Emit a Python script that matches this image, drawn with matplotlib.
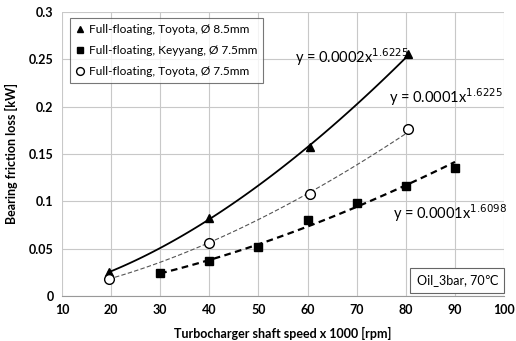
import numpy as np
import matplotlib
matplotlib.use("Agg")
import matplotlib.pyplot as plt

plt.rcParams["font.family"] = ["Lato", "DejaVu Sans"]

# Toyota 8.5 mm (triangles)
speed_t85 = [19.5, 40, 60.5, 80.5]
loss_t85 = [0.025, 0.082, 0.157, 0.256]
# Keyyang 7.5 mm (squares)
speed_k75 = [30, 40, 50, 60, 70, 80, 90]
loss_k75 = [0.024, 0.037, 0.052, 0.080, 0.098, 0.116, 0.135]
# Toyota 7.5 mm (open circles)
speed_t75 = [19.5, 40, 60.5, 80.5]
loss_t75 = [0.018, 0.056, 0.108, 0.176]

labels = ["Full-floating, Toyota, Ø 8.5mm",
          "Full-floating, Keyyang, Ø 7.5mm",
          "Full-floating, Toyota, Ø 7.5mm"]
equations = ["y = 0.0002x$^{1.6225}$",
             "y = 0.0001x$^{1.6225}$",
             "y = 0.0001x$^{1.6098}$"]


def power_trend(xs, ys):
    # least squares in log space, like a spreadsheet power trendline
    b, log_a = np.polyfit(np.log(xs), np.log(ys), 1)
    xx = np.linspace(min(xs), max(xs), 100)
    return xx, np.exp(log_a) * xx ** b


fig = plt.figure(figsize=(5.16, 3.41), dpi=100)
ax = fig.add_axes([0.120, 0.132, 0.857, 0.833])

xx, yy = power_trend(speed_t85, loss_t85)
ax.plot(xx, yy, color="black", lw=1.3, zorder=2)
xx, yy = power_trend(speed_k75, loss_k75)
ax.plot(xx, yy, color="black", lw=1.6, ls=(0, (3, 2)), zorder=2)
xx, yy = power_trend(speed_t75, loss_t75)
ax.plot(xx, yy, color="#555555", lw=0.8, ls=(0, (4, 2)), zorder=2)

ax.plot(speed_t85, loss_t85, ls="none", marker="^", ms=6, color="black",
        label=labels[0], zorder=3)
ax.plot(speed_k75, loss_k75, ls="none", marker="s", ms=6, color="black",
        label=labels[1], zorder=3)
ax.plot(speed_t75, loss_t75, ls="none", marker="o", ms=7, mfc="white",
        mec="black", mew=1, label=labels[2], zorder=3)

ax.text(57.5, 0.252, equations[0], fontsize=10.5, va="center")
ax.text(76.5, 0.210, equations[1], fontsize=10.5, va="center")
ax.text(77.3, 0.087, equations[2], fontsize=10.5, va="center")

ax.text(98.8, 0.010, "Oil_3bar, 70℃", fontsize=9, ha="right", va="bottom",
        family=["Lato", "DejaVu Sans"],
        bbox=dict(boxstyle="square,pad=0.5", fc="white", ec="#666666", lw=0.8))

ax.set_xlim(10, 100)
ax.set_ylim(0, 0.3)
ax.set_xticks(np.arange(10, 101, 10))
ax.set_yticks([0, 0.05, 0.1, 0.15, 0.2, 0.25, 0.3])
ax.set_yticklabels(["0", "0.05", "0.1", "0.15", "0.2", "0.25", "0.3"])
ax.tick_params(labelsize=9, length=0, pad=6)
for lab in ax.get_xticklabels() + ax.get_yticklabels():
    lab.set_fontweight("bold")
ax.grid(True, color="#c8c8c8", lw=0.8)
ax.set_axisbelow(True)
for side in ["top", "right"]:
    ax.spines[side].set_visible(False)
ax.spines["left"].set_visible(False)
ax.spines["bottom"].set_color("#999999")

ax.set_xlabel("Turbocharger shaft speed x 1000 [rpm]", fontsize=9,
              fontweight="bold", labelpad=8)
ax.set_ylabel("Bearing friction loss [kW]", fontsize=9, fontweight="bold",
              labelpad=8)

leg = ax.legend(loc="upper left", bbox_to_anchor=(0.004, 1.0), fontsize=8.6,
                frameon=True, fancybox=False, edgecolor="#555555",
                handlelength=0.8, handletextpad=0.3, labelspacing=0.85,
                borderpad=0.5, markerscale=0.8)
leg.get_frame().set_linewidth(0.8)

fig.savefig("out.png", dpi=100)
